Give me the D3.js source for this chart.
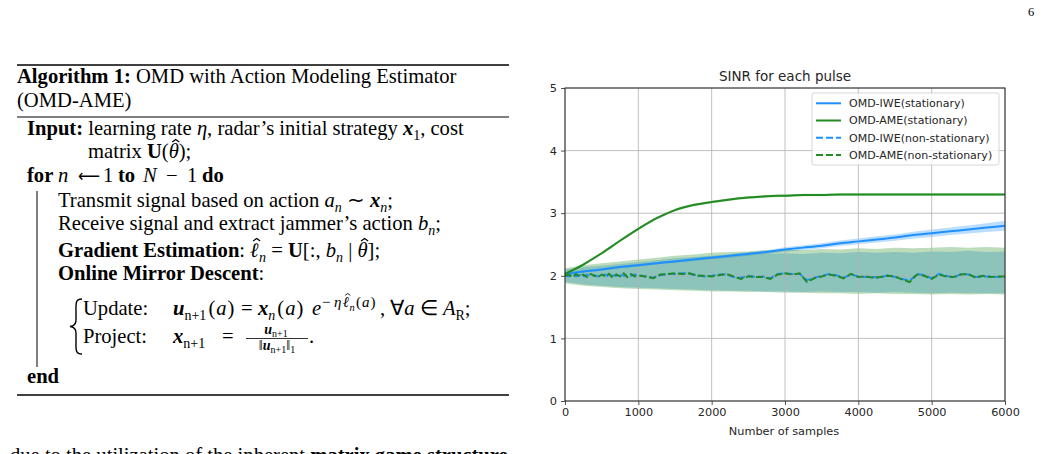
<!DOCTYPE html>
<html>
<head>
<meta charset="utf-8">
<script src="https://cdn.jsdelivr.net/npm/d3@7"></script>
<style>
  body { margin: 0; background: #fff; }
  svg { display: block; }
  .serif { font-family: "Liberation Serif", "Times New Roman", serif; font-size: 20.6px; fill: #000; white-space: pre; }
  .sans { font-family: "DejaVu Sans", sans-serif; fill: #262626; }
</style>
</head>
<body>
<div id="page"></div>
<script>
// ---- data ----
var statX = [0,250,500,750,1000,1250,1500,1750,2000,2250,2500,2750,3000,3250,3500,3750,4000,4250,4500,4750,5000,5250,5500,5750,6000];

var ameStat = [2.03,2.18,2.36,2.56,2.75,2.92,3.05,3.13,3.18,3.22,3.25,3.27,3.28,3.29,3.29,3.30,3.30,3.30,3.30,3.30,3.30,3.30,3.30,3.30,3.30];
var ameStatBand = [0.02,0.02,0.02,0.02,0.02,0.02,0.02,0.02,0.02,0.02,0.02,0.02,0.02,0.02,0.02,0.02,0.02,0.02,0.02,0.02,0.02,0.02,0.02,0.02,0.02];

var iweStat = [2.03,2.07,2.10,2.14,2.17,2.20,2.23,2.26,2.29,2.32,2.35,2.38,2.42,2.45,2.48,2.52,2.55,2.58,2.61,2.65,2.68,2.71,2.74,2.77,2.80];
var iweStatBand = [0.02,0.02,0.02,0.02,0.02,0.02,0.02,0.025,0.025,0.03,0.03,0.03,0.035,0.04,0.04,0.045,0.045,0.05,0.05,0.055,0.06,0.06,0.065,0.07,0.08];

// non-stationary bands (upper / lower edges)
var ameNsHi = [2.12,2.17,2.20,2.23,2.26,2.29,2.32,2.34,2.37,2.38,2.39,2.41,2.42,2.41,2.43,2.42,2.44,2.43,2.45,2.44,2.45,2.46,2.45,2.46,2.45];
var ameNsLo = [1.88,1.84,1.82,1.80,1.79,1.78,1.77,1.76,1.75,1.75,1.74,1.74,1.73,1.73,1.72,1.72,1.71,1.72,1.71,1.71,1.70,1.71,1.70,1.71,1.70];
var iweNsHi = [2.10,2.14,2.16,2.19,2.22,2.25,2.28,2.30,2.32,2.33,2.34,2.35,2.36,2.35,2.37,2.36,2.38,2.37,2.38,2.37,2.39,2.38,2.40,2.38,2.39];
var iweNsLo = [1.90,1.86,1.84,1.82,1.81,1.80,1.79,1.78,1.77,1.76,1.76,1.75,1.75,1.74,1.75,1.74,1.74,1.73,1.74,1.73,1.72,1.73,1.72,1.72,1.72];

// non-stationary mean curves
var nsX = d3.range(0, 1000, 50).concat(d3.range(1000, 6001, 100));
var ameNs = [2.00,2.02,1.98,2.03,1.99,2.02,1.98,2.03,2.00,1.98,2.02,1.99,2.03,1.97,2.02,1.99,2.04,1.98,2.03,1.99,
  2.00,1.99,1.96,2.02,2.03,2.04,2.03,2.04,2.00,2.00,
  1.99,2.01,2.03,1.99,1.95,1.99,1.98,1.98,1.95,2.02,
  2.04,2.02,2.04,1.90,1.96,1.99,2.02,2.00,1.96,2.03,
  1.98,1.99,1.97,1.98,2.00,1.99,1.94,1.90,2.02,2.00,
  1.95,2.02,1.99,1.98,2.02,2.03,1.97,2.00,1.98,1.99,1.99];
var iweNs = [2.00,1.99,2.02,1.99,2.01,1.98,2.02,2.00,2.01,1.99,2.01,2.02,1.98,2.01,2.00,2.02,2.00,2.01,2.00,2.02,
  2.01,1.99,1.97,2.01,2.03,2.03,2.04,2.03,2.01,1.99,
  2.00,2.02,2.02,1.98,1.97,2.00,1.98,1.99,1.96,2.03,
  2.04,2.03,2.03,1.93,1.97,2.00,2.03,2.01,1.97,2.02,
  1.99,1.98,1.98,1.97,2.01,1.98,1.95,1.92,2.03,2.01,
  1.96,2.03,2.00,1.97,2.03,2.02,1.98,1.99,1.99,1.98,1.98];

var xTicks = [0,1000,2000,3000,4000,5000,6000];
var yTicks = [0,1,2,3,4,5];
var legendNames = ["OMD-IWE(stationary)","OMD-AME(stationary)","OMD-IWE(non-stationary)","OMD-AME(non-stationary)"];

var blue = "#1e90ff", green = "#228b22";

var svg = d3.select("#page").append("svg")
  .attr("width", 1041).attr("height", 454);

// ================= left: algorithm box =================
var subOff = 4.5, supOff = -8, supSubOff = -4;

// segs: [text, flags, x, dx]; flags b=bold i=italic s=sub p=sup P=sub-in-sup h=hat
function mathLine(x, y, segs) {
  var t = svg.append("text").attr("class", "serif").attr("x", x).attr("y", y);
  var cur = 0, idx = 0, hats = [];
  segs.forEach(function(s) {
    var txt = s[0], st = s[1] || "";
    var sp = t.append("tspan").text(txt);
    if (s[2] != null) sp.attr("x", s[2]);
    if (s[3] != null) sp.attr("dx", s[3]);
    var off = 0;
    if (st.indexOf("s") >= 0) off = subOff;
    if (st.indexOf("p") >= 0) off = supOff;
    if (st.indexOf("P") >= 0) off = supSubOff;
    if (off !== cur) sp.attr("dy", off - cur);
    cur = off;
    if (st.indexOf("b") >= 0) sp.attr("font-weight", "bold");
    if (st.indexOf("i") >= 0) sp.attr("font-style", "italic");
    var fs = 20.6;
    if (st.indexOf("P") >= 0) fs = 10.5;
    else if (st.indexOf("p") >= 0) fs = 15;
    else if (st.indexOf("s") >= 0) fs = 14;
    if (fs !== 20.6) sp.attr("font-size", fs + "px");
    if (st.indexOf("h") >= 0) hats.push({ i: idx, fs: fs, base: y + off });
    idx += txt.length;
  });
  hats.forEach(function(h) {
    var e = t.node().getExtentOfChar(h.i);
    var cx = e.x + e.width / 2 + h.fs * 0.1, top = h.base - h.fs * 0.78, w = h.fs * 0.17;
    svg.append("path")
      .attr("d", "M" + (cx - w) + "," + top + " L" + cx + "," + (top - h.fs * 0.12) + " L" + (cx + w) + "," + top)
      .attr("fill", "none").attr("stroke", "#000").attr("stroke-width", h.fs * 0.06);
  });
  return t;
}

svg.append("line").attr("x1", 17).attr("x2", 509).attr("y1", 65).attr("y2", 65).attr("stroke", "#000").attr("stroke-width", 1.6);
svg.append("line").attr("x1", 17).attr("x2", 509).attr("y1", 117).attr("y2", 117).attr("stroke", "#000").attr("stroke-width", 1);
svg.append("line").attr("x1", 17).attr("x2", 509).attr("y1", 395).attr("y2", 395).attr("stroke", "#000").attr("stroke-width", 1.6);

mathLine(17, 83, [["Algorithm 1: ", "b"], ["OMD with Action Modeling Estimator"]]);
mathLine(17, 107, [["(OMD-AME)"]]);
mathLine(27, 135, [["Input: ", "b"], ["learning rate "], ["η", "i"], [", radar’s initial strategy "], ["x", "bi"], ["1", "s"], [", cost"]]);
mathLine(88, 158, [["matrix "], ["U", "b"], ["("], ["θ", "ih"], [");"]]);
mathLine(27, 182, [["for ", "b"], ["n", "i", 58], ["1", "", 103], ["to", "b", 118], ["N", "i", 143], ["−", "", 166], ["1", "", 187], ["do", "b", 202]]);
// long left arrow, stretched to the width it has in the source
svg.append("text").attr("x", 78).attr("y", 182)
  .style("font-family", "DejaVu Sans").style("font-size", "18px")
  .attr("textLength", 22).attr("lengthAdjust", "spacingAndGlyphs").text("⟵");

svg.append("line").attr("x1", 37).attr("x2", 37).attr("y1", 191).attr("y2", 367).attr("stroke", "#000").attr("stroke-width", 1);

mathLine(58, 207, [["Transmit signal based on action "], ["a", "i"], ["n", "si"], [" ∼ "], ["x", "bi"], ["n", "si"], [";"]]);
mathLine(58, 230, [["Receive signal and extract jammer’s action "], ["b", "i"], ["n", "si"], [";"]]);
mathLine(58, 257, [["Gradient Estimation", "b"], [": "], ["ℓ", "bih"], ["n", "si"], [" = "], ["U", "b"], ["[:, "], ["b", "i"], ["n", "si"], [" | "], ["θ", "ih"], ["];"]]);
mathLine(58, 280, [["Online Mirror Descent", "b"], [":"]]);

// curly brace
svg.append("path")
  .attr("d", "M82,299 C75,299 76,304 76,312 L76,320 C76,324 74,326 70,326.5 C74,327 76,329 76,333 L76,341 C76,349 75,354 82,354")
  .attr("fill", "none").attr("stroke", "#000").attr("stroke-width", 1.4);

mathLine(83, 315, [["Update:"]]);
mathLine(173, 315, [["u", "bi"], ["n+1", "s"], ["(", "", null, 2], ["a", "i", null, 1], [")", "", null, 1], ["=", "", 241], ["x", "bi", 258], ["n", "si"], ["(", "", null, 2], ["a", "i", null, 1], [")", "", null, 1], ["e", "i", 312],
  ["−", "p", 322], ["η", "pi", 334], ["ℓ", "pbih", 343], ["n", "Pi"], ["(", "p", 356], ["a", "pi", null, 1], [")", "p", null, 1], [",", "", 380], [" ∀"], ["a", "i"], [" ∈ "], ["A", "i"], ["R", "s"], [";"]]);
mathLine(83, 343, [["Project:"]]);
mathLine(173, 343, [["x", "bi"], ["n+1", "s"], ["=", "", 222]]);
// fraction
svg.append("text").attr("class", "serif").attr("x", 276).attr("y", 334).attr("text-anchor", "middle").style("font-size", "14px")
  .call(function(t) {
    t.append("tspan").attr("font-weight", "bold").attr("font-style", "italic").text("u");
    t.append("tspan").attr("dy", 3).style("font-size", "10px").text("n+1");
  });
svg.append("line").attr("x1", 246).attr("x2", 308).attr("y1", 338.5).attr("y2", 338.5).attr("stroke", "#000").attr("stroke-width", 0.8);
svg.append("text").attr("class", "serif").attr("x", 277).attr("y", 350).attr("text-anchor", "middle").style("font-size", "14px")
  .call(function(t) {
    t.append("tspan").text("‖");
    t.append("tspan").attr("font-weight", "bold").attr("font-style", "italic").text("u");
    t.append("tspan").attr("dy", 3).style("font-size", "10px").text("n+1");
    t.append("tspan").attr("dy", -3).text("‖");
    t.append("tspan").attr("dy", 3).style("font-size", "10px").text("1");
  });
mathLine(309, 343, [["."]]);

mathLine(27, 383, [["end", "b"]]);

// body text cut by the bottom edge
mathLine(10, 462, [["due to the utilization of the inherent "], ["matrix game structure", "b"]]);

// page number
svg.append("text").attr("class", "serif").attr("x", 1028).attr("y", 16).style("font-size", "12.5px").text("6");

// ================= right: chart =================
var x = d3.scaleLinear().domain([0, 6000]).range([565, 1005]);
var y = d3.scaleLinear().domain([0, 5]).range([401, 88]);

var chart = svg.append("g");

var area = d3.area().x(function(d) { return x(d.x); }).y0(function(d) { return y(d.lo); }).y1(function(d) { return y(d.hi); });
var lineSmooth = d3.line().x(function(d) { return x(d.x); }).y(function(d) { return y(d.v); }).curve(d3.curveMonotoneX);
var lineRaw = d3.line().x(function(d) { return x(d.x); }).y(function(d) { return y(d.v); });

function band(c, w) {
  return statX.map(function(v, i) { return { x: v, lo: c[i] - w[i], hi: c[i] + w[i] }; });
}
function bandHL(hi, lo) {
  return statX.map(function(v, i) { return { x: v, lo: lo[i], hi: hi[i] }; });
}

// fills
chart.append("path").attr("d", area(band(iweStat, iweStatBand))).attr("fill", blue).attr("fill-opacity", 0.3);
chart.append("path").attr("d", area(band(ameStat, ameStatBand))).attr("fill", green).attr("fill-opacity", 0.3);
chart.append("path").attr("d", area(bandHL(iweNsHi, iweNsLo))).attr("fill", blue).attr("fill-opacity", 0.3);
chart.append("path").attr("d", area(bandHL(ameNsHi, ameNsLo))).attr("fill", green).attr("fill-opacity", 0.3);

// grid
chart.selectAll(".gx").data(xTicks).enter().append("line")
  .attr("x1", x).attr("x2", x).attr("y1", y(0)).attr("y2", y(5))
  .attr("stroke", "#b0b0b0").attr("stroke-width", 0.8);
chart.selectAll(".gy").data(yTicks).enter().append("line")
  .attr("y1", y).attr("y2", y).attr("x1", x(0)).attr("x2", x(6000))
  .attr("stroke", "#b0b0b0").attr("stroke-width", 0.8);

// lines
chart.append("path").attr("d", lineSmooth(statX.map(function(v, i) { return { x: v, v: iweStat[i] }; })))
  .attr("fill", "none").attr("stroke", blue).attr("stroke-width", 2);
chart.append("path").attr("d", lineSmooth(statX.map(function(v, i) { return { x: v, v: ameStat[i] }; })))
  .attr("fill", "none").attr("stroke", green).attr("stroke-width", 2);
chart.append("path").attr("d", lineRaw(nsX.map(function(v, i) { return { x: v, v: iweNs[i] }; })))
  .attr("fill", "none").attr("stroke", blue).attr("stroke-width", 2).attr("stroke-dasharray", "7,3");
chart.append("path").attr("d", lineRaw(nsX.map(function(v, i) { return { x: v, v: ameNs[i] }; })))
  .attr("fill", "none").attr("stroke", green).attr("stroke-width", 2).attr("stroke-dasharray", "7,3");

// axes
var xAxis = chart.append("g").attr("transform", "translate(0," + y(0) + ")")
  .call(d3.axisBottom(x).tickValues(xTicks).tickFormat(d3.format("d")).tickSize(4).tickPadding(3).tickSizeOuter(0));
var yAxis = chart.append("g").attr("transform", "translate(" + x(0) + ",0)")
  .call(d3.axisLeft(y).tickValues(yTicks).tickFormat(d3.format("d")).tickSize(4).tickPadding(4).tickSizeOuter(0));
[xAxis, yAxis].forEach(function(a) {
  a.select(".domain").remove();
  a.selectAll("text").attr("class", "sans").style("font-size", "11.3px").attr("fill", "#262626");
  a.selectAll("line").attr("stroke", "#262626").attr("stroke-width", 0.8);
});

// frame
chart.append("rect").attr("x", x(0)).attr("y", y(5)).attr("width", x(6000) - x(0)).attr("height", y(0) - y(5))
  .attr("fill", "none").attr("stroke", "#262626").attr("stroke-width", 1);

chart.append("text").attr("class", "sans").attr("x", 785).attr("y", 81).attr("text-anchor", "middle")
  .style("font-size", "13.5px").text("SINR for each pulse");
chart.append("text").attr("class", "sans").attr("x", 784).attr("y", 435).attr("text-anchor", "middle")
  .style("font-size", "11.3px").text("Number of samples");

// legend
var leg = chart.append("g");
leg.append("rect").attr("x", 812).attr("y", 93).attr("width", 187).attr("height", 72).attr("rx", 2)
  .attr("fill", "#fff").attr("fill-opacity", 0.8).attr("stroke", "#cccccc").attr("stroke-width", 0.8);
var legColors = [blue, green, blue, green];
var legDash = [null, null, "7,3", "7,3"];
legendNames.forEach(function(name, i) {
  var ly = 103.3 + i * 17.2;
  leg.append("line").attr("x1", 816).attr("x2", 841).attr("y1", ly).attr("y2", ly)
    .attr("stroke", legColors[i]).attr("stroke-width", 2).attr("stroke-dasharray", legDash[i]);
  leg.append("text").attr("class", "sans").attr("x", 849).attr("y", ly).attr("dy", "0.35em")
    .style("font-size", "11px").text(name);
});
</script>
</body>
</html>
